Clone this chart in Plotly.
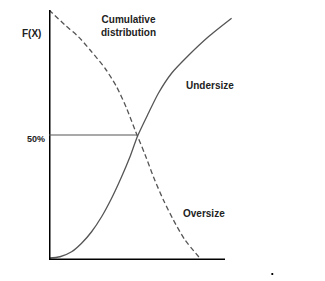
import plotly.graph_objects as go

# Data (size units vs cumulative fraction)
under_x = [0.0, 0.55, 1.13, 1.63, 2.13, 2.63, 3.13, 3.63, 4.05, 4.43, 4.97, 5.47, 6.13, 6.97, 7.97, 9.13]
under_y = [0.008, 0.013, 0.033, 0.067, 0.113, 0.173, 0.247, 0.333, 0.413, 0.496, 0.587, 0.667, 0.747, 0.818, 0.893, 0.967]
over_x = [0.0, 0.8, 1.47, 2.13, 2.8, 3.38, 3.88, 4.3, 4.8, 5.22, 5.72, 6.22, 6.8, 7.55]
over_y = [1.0, 0.94, 0.893, 0.833, 0.767, 0.693, 0.607, 0.52, 0.422, 0.333, 0.24, 0.16, 0.08, 0.007]
median_x = 4.42
median_y = 0.5
xaxis_end = 8.8

fig = go.Figure()
fig.add_trace(go.Scatter(x=under_x, y=under_y, mode="lines",
                         line=dict(color="#555555", width=1.3, shape="spline", smoothing=0.7),
                         cliponaxis=False, showlegend=False, hoverinfo="skip"))
fig.add_trace(go.Scatter(x=over_x, y=over_y, mode="lines",
                         line=dict(color="#555555", width=1.3, dash="5px,3px", shape="spline", smoothing=0.7),
                         cliponaxis=False, showlegend=False, hoverinfo="skip"))

shapes = [
    dict(type="line", x0=0, x1=0, y0=0, y1=1, xref="x", yref="y",
         line=dict(color="black", width=3)),
    dict(type="line", x0=-0.05, x1=xaxis_end, y0=0, y1=0, xref="x", yref="y",
         line=dict(color="black", width=3)),
    dict(type="line", x0=0, x1=median_x, y0=median_y, y1=median_y, xref="x", yref="y",
         line=dict(color="#555555", width=1.2)),
    dict(type="rect", x0=1.112, x1=1.121, y0=-0.06, y1=-0.052, xref="paper", yref="paper",
         fillcolor="black", line=dict(width=0)),
]

fam = "Liberation Sans Narrow, Arial Narrow, Arial"
font = dict(family=fam, size=10, color="#222222")
common = dict(showarrow=False, xref="paper", yref="paper", xanchor="center", yanchor="middle")
annotations = [
    dict(x=-0.09, y=0.904, text="<b>F(X)</b>", font=font, **common),
    dict(x=0.395, y=0.935, text="<b>Cumulative<br>distribution</b>", font=font, **common),
    dict(x=0.805, y=0.70, text="<b>Undersize</b>", font=font, **common),
    dict(x=-0.0675, y=0.484, text="<b>50%</b>", font=dict(family=fam, size=9, color="#222222"), **common),
    dict(x=0.775, y=0.188, text="<b>Oversize</b>", font=font, **common),
]

fig.update_layout(
    width=325, height=281,
    margin=dict(l=49, r=76, t=10, b=21),
    paper_bgcolor="white", plot_bgcolor="white",
    xaxis=dict(range=[0, 10], visible=False),
    yaxis=dict(range=[0, 1], visible=False),
    shapes=shapes, annotations=annotations,
)
fig.write_html("out.html")
